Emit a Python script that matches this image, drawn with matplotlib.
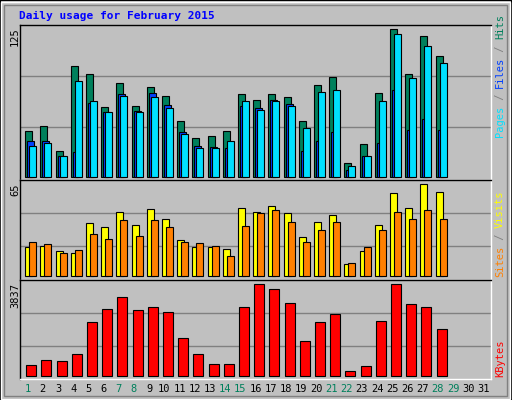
import matplotlib
matplotlib.use("Agg")
import matplotlib.pyplot as plt
from matplotlib.patches import Rectangle
import numpy as np

days = list(range(1, 29))
all_days = list(range(1, 32))
weekend_days = [1, 7, 8, 14, 15, 21, 22, 28, 29]
hits = [38.5, 42.7, 21.5, 93.6, 86.8, 58.8, 79.2, 59.7, 75.8, 68.2, 46.9, 32.5, 34.2, 38.5,
        69.9, 64.8, 69.9, 67.3, 46.9, 77.5, 84.3, 11.3, 27.4, 70.7, 125, 86.8, 119, 102]
files = [30, 30, 17.3, 20.6, 62.2, 54.6, 69.9, 55.4, 70.7, 60.5, 37.6, 25.7, 24.9, 24,
         59.7, 58, 64.8, 61.4, 21.5, 30, 37.6, 5.4, 17.3, 28.3, 73.2, 39.3, 48.6, 39.3]
pages = [25.7, 28.3, 17.3, 80.9, 63.9, 54.6, 68.2, 54.6, 67.3, 58, 35.9, 24, 24, 30,
         63.9, 56.3, 63.9, 59.7, 41, 71.5, 73.2, 8.8, 17.3, 63.9, 120.8, 83.4, 110.6, 96.2]
visits = [20.7, 21.4, 17.9, 16.5, 37.7, 34.9, 45.5, 36.3, 47.6, 40.5, 25.7, 20.7, 20.7, 19.3,
          48.3, 45.5, 49.7, 44.7, 27.8, 38.4, 43.3, 8.7, 17.9, 36.3, 58.9, 48.3, 65, 59.6]
sites = [24.3, 22.8, 16.5, 18.6, 29.9, 26.4, 39.8, 28.5, 39.8, 34.9, 24.3, 23.6, 21.4, 14.4,
         35.6, 44.7, 46.9, 38.4, 24.3, 32.7, 38.4, 9.4, 20.7, 32.7, 45.5, 40.5, 46.9, 40.5]
kbytes = [448, 644, 602, 910, 2241, 2787, 3291, 2745, 2871, 2661, 1568, 910, 490, 490,
          2871, 3837, 3627, 3039, 1442, 2241, 2577, 182, 392, 2283, 3837, 2997, 2871, 1947]
max_labels = ["125", "65", "3837"]

W, H = 512, 400
fig = plt.figure(figsize=(W/100, H/100), dpi=100)
fig.patch.set_facecolor("#C0C0C0")
# bevel border
fig.add_artist(Rectangle((0, 0), 1, 1, transform=fig.transFigure, fill=False, ec="black", lw=1.5))
fig.add_artist(Rectangle((1/W, 1/H), 1-3/W, 1-3/H, transform=fig.transFigure, fill=False, ec="white", lw=1))
fig.add_artist(Rectangle((4/W, 4/H), 1-9/W, 1-9/H, transform=fig.transFigure, fill=False, ec="#808080", lw=1))

def add_ax(top, bottom):
    x0, x1 = 20, 491
    return fig.add_axes([x0/W, 1-bottom/H, (x1-x0)/W, (bottom-top)/H])

mono = "DejaVu Sans Mono"
fs = 7.5
x = np.array(days, dtype=float)

def style(ax, ylim, grids):
    ax.set_facecolor("#C0C0C0")
    ax.set_xlim(0.5, 31.5)
    ax.set_ylim(*ylim)
    ax.set_xticks([]); ax.set_yticks([])
    for g in grids:
        ax.axhline(g, color="#808080", lw=1, zorder=0)
    ax.spines["left"].set_color("black")
    ax.spines["top"].set_color("black")
    ax.spines["right"].set_color("white")
    ax.spines["bottom"].set_color("white")
    for s in ax.spines.values():
        s.set_linewidth(1)

slot = 471/31
px = 1/slot
bk = dict(edgecolor="black", linewidth=0.8, align="edge")

ax1 = add_ax(25, 180)
style(ax1, (-2.8, 128.6), [85.1, 41.9])
ax1.bar(x-0.5+5.3*px, hits, width=7*px, color="#00805C", **bk)
ax1.bar(x-0.5+7.3*px, files, width=7*px, color="#0040FF", **bk)
ax1.bar(x-0.5+9.3*px, pages, width=7*px, color="#00E0FF", **bk)

ax2 = add_ax(180, 280)
style(ax2, (-2.6, 68.0), [44.5, 21.2])
ax2.bar(x-0.5+5.3*px, visits, width=7*px, color="#FFFF00", **bk)
ax2.bar(x-0.5+9.3*px, sites, width=7*px, color="#FF8000", **bk)

ax3 = add_ax(280, 379)
style(ax3, (-139, 4018), [2620, 1259])
ax3.bar(x-0.5+6.3*px, kbytes, width=10*px, color="#FF0000", **bk)

# title
fig.text(19/W, 1-16/H, "Daily usage for February 2015", color="#0000FF",
         family=mono, weight="bold", fontsize=8, va="center", ha="left")

# max labels
for lab, ytop in zip(max_labels, [27, 183, 283]):
    fig.text(15/W, 1-ytop/H, lab, rotation=90, family=mono, fontsize=fs,
             ha="center", va="top", color="black")

# right labels
def right_label(parts, ybottom):
    y = ybottom
    for t, c in parts:
        txt = fig.text(500/W, 1-y/H, t, rotation=90, family=mono, fontsize=fs,
                       ha="center", va="bottom", color=c)
        y -= len(t) * 6.1

right_label([("Pages", "#00E0FF"), (" / ", "#808080"), ("Files", "#0040FF"),
             (" / ", "#808080"), ("Hits", "#00805C")], 137)
right_label([("Sites", "#FF8000"), (" / ", "#808080"), ("Visits", "#FFFF00")], 277)
right_label([("KBytes", "#FF0000")], 377)

# day labels
for d in all_days:
    xf = (20 + (d-0.5)*slot) / W
    fig.text(xf, 1-389/H, str(d), family=mono, fontsize=fs, ha="center", va="center",
             color="#00805C" if d in weekend_days else "black")

fig.savefig("out.png", dpi=100, facecolor=fig.get_facecolor())
